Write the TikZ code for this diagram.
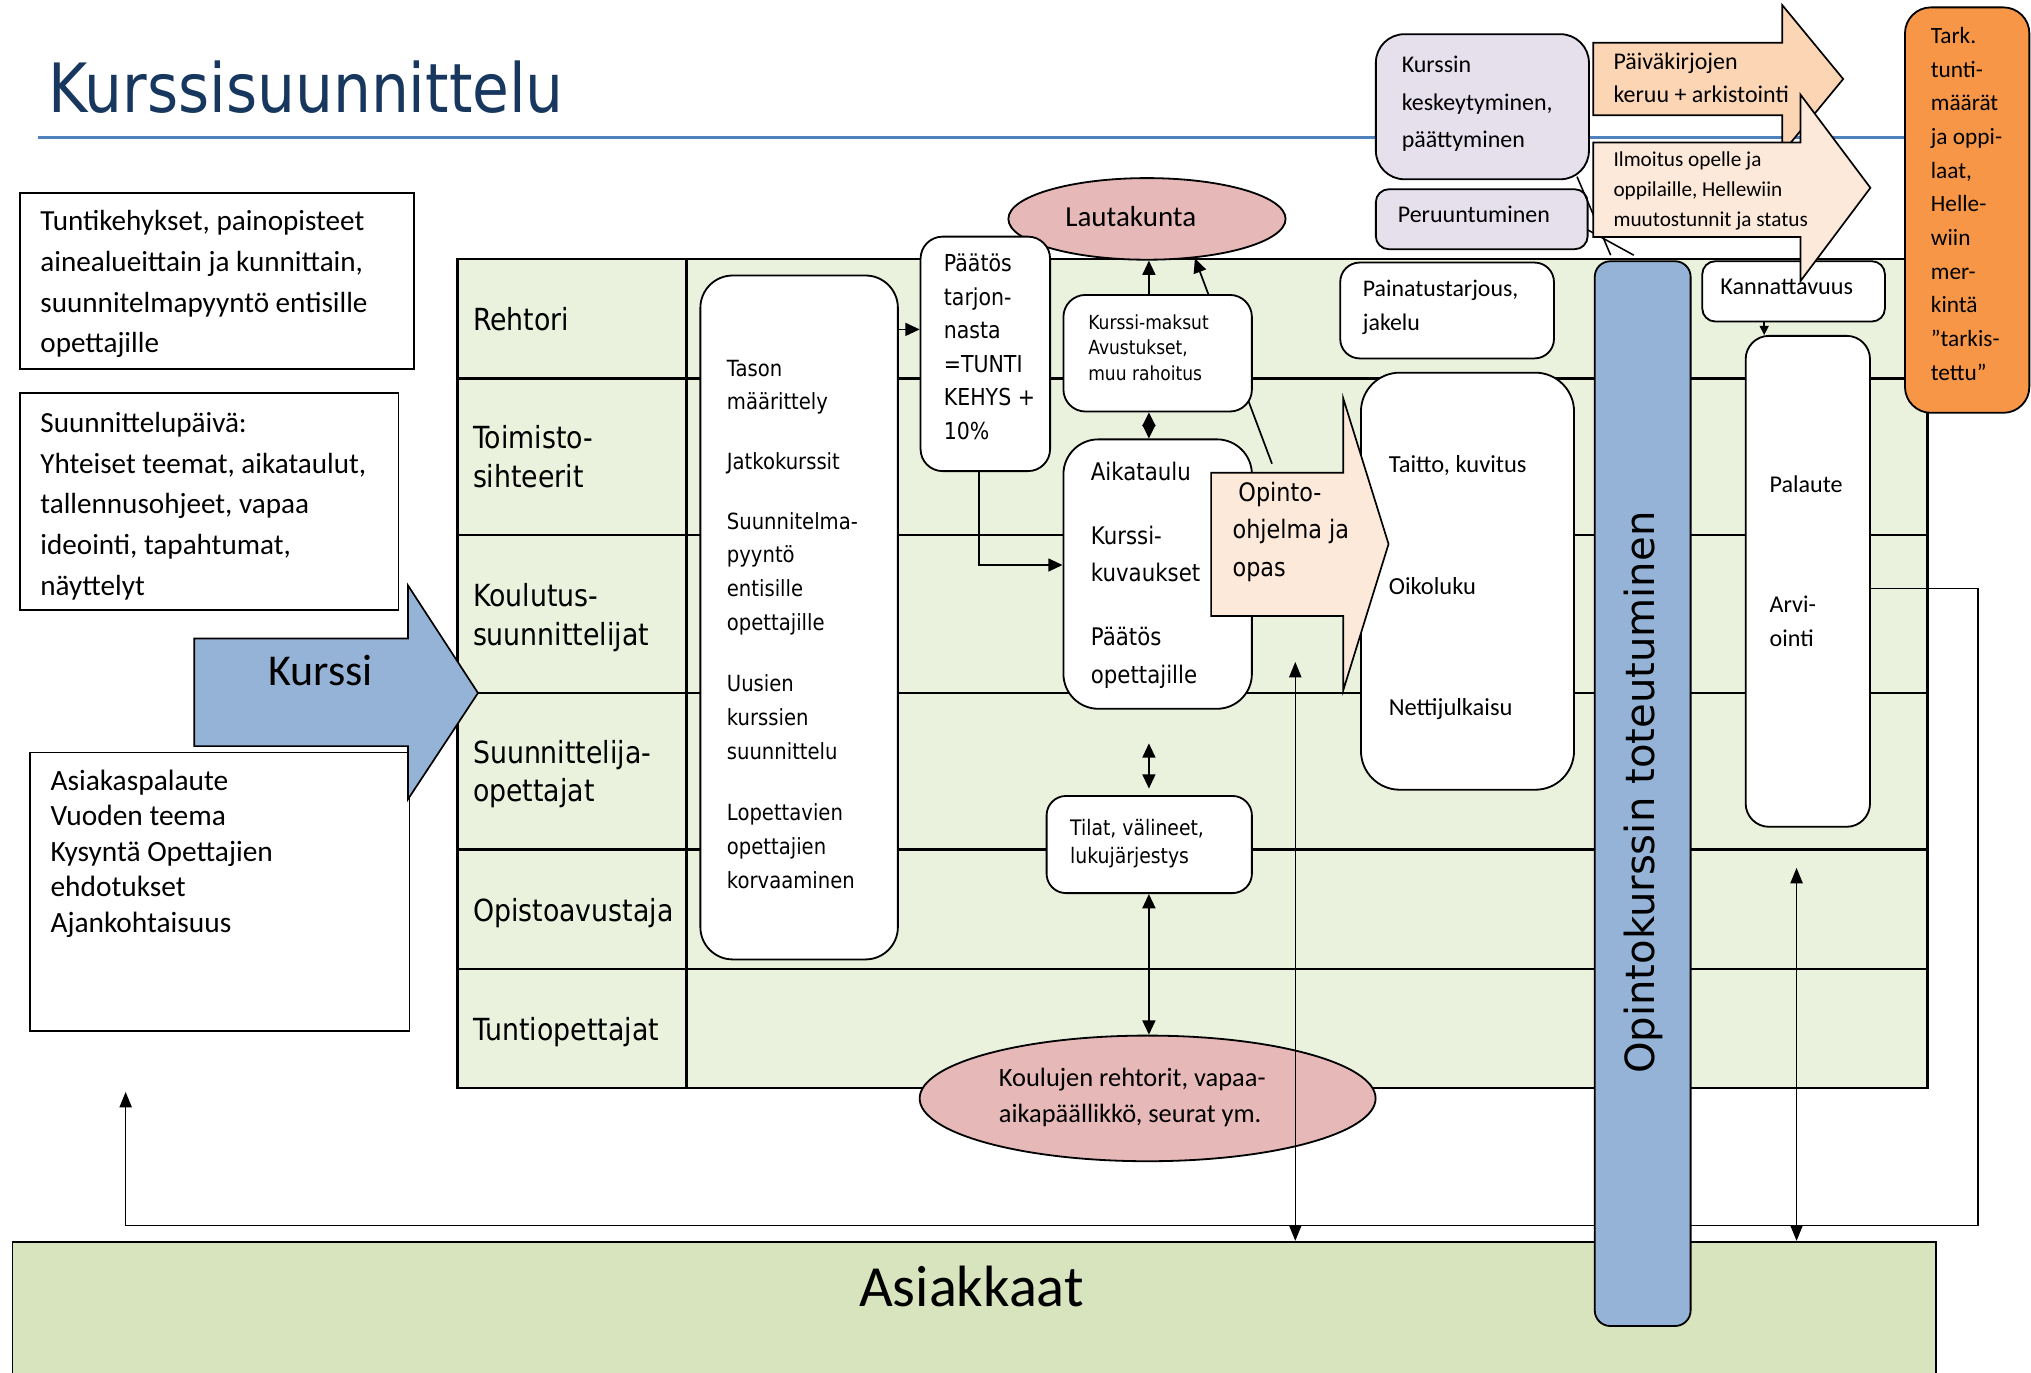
\documentclass[tikz,border=0pt]{standalone}
\usepackage{fontspec}
\setmainfont{Carlito}
\newfontfamily\calf{Carlito}
\newfontfamily\tahf[FakeStretch=0.88]{DejaVu Sans}
\newfontfamily\verf{DejaVu Sans}
\usetikzlibrary{shapes.geometric,arrows.meta}
\definecolor{lanebg}{HTML}{EAF1DD}
\definecolor{custbg}{HTML}{D7E4BD}
\definecolor{barblue}{HTML}{95B3D7}
\definecolor{titleblue}{HTML}{17375E}
\definecolor{ruleblue}{HTML}{4F81BD}
\definecolor{pinkbg}{HTML}{E6B9B8}
\definecolor{lavbg}{HTML}{E5E0EC}
\definecolor{peachA}{HTML}{FCD5B5}
\definecolor{peachB}{HTML}{FDE9D9}
\definecolor{orangebg}{HTML}{F79646}
\newcommand{\tl}[1]{\begin{tabular}[t]{@{}l@{}}#1\end{tabular}}
\newcommand{\cf}[2]{\calf\fontsize{#1}{#2}\selectfont}
\newcommand{\tf}[2]{\tahf\fontsize{#1}{#2}\selectfont}
\begin{document}
\begin{tikzpicture}[x=1pt,y=-1pt,
  txt/.style={inner sep=0pt, anchor=base west},
  bx/.style={draw, line width=1.4pt, fill=white, anchor=north west, inner sep=0pt},
  shapeln/.style={draw=black, line width=1.3pt},
  laneln/.style={line width=2pt},
  arr/.style={line width=1.3pt, -{Triangle[length=11pt,width=10pt]}},
  darr/.style={line width=1.3pt, {Triangle[length=11pt,width=10pt]}-{Triangle[length=11pt,width=10pt]}},
  thinarr/.style={line width=1.1pt, -{Triangle[length=12pt,width=9.5pt]}},
  thindarr/.style={line width=1.1pt, {Triangle[length=12pt,width=9.5pt]}-{Triangle[length=12pt,width=9.5pt]}}
]
\useasboundingbox (0,0) rectangle (1568,1060);

% ---------- title ----------
\draw[ruleblue, line width=2.2pt] (29.5,106) -- (1470,106);
\node[txt, font=\tahf\fontsize{52.5}{60}\selectfont, text=titleblue] (title) at (37,87) {Kurssisuunnittelu};

% ---------- swimlanes ----------
\draw[laneln, fill=lanebg] (353,200) rectangle (1488,840);
\foreach \yy in {292,413,535,656,748} \draw[laneln] (353,\yy) -- (1488,\yy);
\draw[laneln] (530,200) -- (530,840);

\node[txt, font=\tf{23.5}{29.5}] (lnA) at (365,255) {Rehtori};
\node[txt, font=\tf{23.5}{29.5}] (lnB) at (365,346.5) {\tl{Toimisto-\\sihteerit}};
\node[txt, font=\tf{23.5}{29.5}] (lnC) at (365,468.5) {\tl{Koulutus-\\suunnittelijat}};
\node[txt, font=\tf{23.5}{29.5}] (lnD) at (365,589.5) {\tl{Suunnittelija-\\opettajat}};
\node[txt, font=\tf{23.5}{29.5}] (lnE) at (365,711.5) {Opistoavustaja};
\node[txt, font=\tf{23.5}{29.5}] (lnF) at (365,803.5) {Tuntiopettajat};

% ---------- customers ----------
\node[draw, line width=1.4pt, fill=custbg, anchor=north west, inner sep=0pt,
      minimum width=1485pt, minimum height=112pt] (asiak) at (9,958) {};
\node[font=\cf{45}{50}, inner sep=0pt, anchor=base] (asiakT) at (750,1009) {Asiakkaat};

% ---------- left boxes ----------
\node[draw, line width=1.4pt, fill=white, anchor=north west, inner sep=0pt,
      minimum width=304pt, minimum height=136pt] (lbA) at (15,148) {};
\node[txt, font=\cf{22.5}{31.5}] (lbAT) at (31,178) {\tl{Tuntikehykset, painopisteet\\ainealueittain ja kunnittain,\\suunnitelmapyyntö entisille\\opettajille}};
\node[draw, line width=1.4pt, fill=white, anchor=north west, inner sep=0pt,
      minimum width=292pt, minimum height=168pt] (lbB) at (15,302.5) {};
\node[txt, font=\cf{22.5}{31.4}] (lbBT) at (31,333.8) {\tl{Suunnittelupäivä:\\Yhteiset teemat, aikataulut,\\tallennusohjeet, vapaa\\ideointi, tapahtumat,\\näyttelyt}};
\node[draw, line width=1.4pt, fill=white, anchor=north west, inner sep=0pt,
      minimum width=293pt, minimum height=215pt] (lbC) at (22.4,580.3) {};
\node[txt, font=\cf{22.7}{27.5}] (lbCT) at (38.8,610) {\tl{Asiakaspalaute\\Vuoden teema\\Kysyntä Opettajien\\ehdotukset\\Ajankohtaisuus}};

% Kurssi block arrow
\draw[shapeln, fill=barblue] (150,493) -- (315,493) -- (315,452) -- (369,535) -- (315,617) -- (315,576) -- (150,576) -- cycle;
\node[font=\cf{34}{40}, inner sep=0pt, anchor=base] (kurssiT) at (247.5,529) {Kurssi};

% ---------- Lautakunta ----------
\node[draw, ellipse, line width=1.4pt, fill=pinkbg, inner sep=0pt,
      minimum width=214pt, minimum height=63pt] (laut) at (885.5,169) {};
\node[font=\cf{22.4}{26}, inner sep=0pt, anchor=base] (lautT) at (873,175) {Lautakunta};

% slanted line behind the financing box
\coordinate (opTop) at (982,358);
\coordinate (lautHit) at (922.5,199.5);
\draw[arr] (opTop) -- (lautHit);

% ---------- middle boxes ----------
\node[bx, rounded corners=25pt, minimum width=152.5pt, minimum height=528pt] (tason) at (540,212) {};
\node[txt, font=\tf{17.2}{26}] (tasonT) at (561,290.3) {\tl{Tason\\määrittely\\[20.3pt]Jatkokurssit\\[20pt]Suunnitelma-\\pyyntö\\entisille\\opettajille\\[21.6pt]Uusien\\kurssien\\suunnittelu\\[21.5pt]Lopettavien\\opettajien\\korvaaminen}};

\node[bx, rounded corners=17pt, minimum width=100pt, minimum height=181pt] (paatos) at (710,182) {};
\node[txt, font=\tf{18}{25.9}] (paatosT) at (728.5,209.7) {\tl{Päätös\\tarjon-\\nasta\\=TUNTI\\KEHYS +\\10\%}};

\node[bx, rounded corners=17pt, minimum width=145.5pt, minimum height=90pt] (maksut) at (820.3,227) {};
\node[txt, font=\tf{15}{19.7}] (maksutT) at (840,254) {\tl{Kurssi-maksut\\Avustukset,\\muu rahoitus}};

\node[bx, rounded corners=27pt, minimum width=145.5pt, minimum height=208pt] (aika) at (820.3,338.5) {};
\node[txt, font=\tf{18.7}{29}] (aikaT) at (842,370.6) {\tl{Aikataulu\\[20.4pt]Kurssi-\\kuvaukset\\[20.7pt]Päätös\\opettajille}};

\node[bx, rounded corners=15pt, minimum width=158.5pt, minimum height=75pt] (tilat) at (807.3,613.8) {};
\node[txt, font=\tf{16.5}{22}] (tilatT) at (826,645) {\tl{Tilat, välineet,\\lukujärjestys}};

\node[draw, ellipse, line width=1.4pt, fill=pinkbg, inner sep=0pt,
      minimum width=352pt, minimum height=97pt] (koul) at (886,848) {};
\node[txt, font=\cf{20.4}{27.7}] (koulT) at (771,839) {\tl{Koulujen rehtorit, vapaa-\\aikapäällikkö, seurat ym.}};

% right boxes in lanes
\node[bx, rounded corners=15pt, minimum width=165pt, minimum height=74pt] (paina) at (1034,202) {};
\node[txt, font=\cf{18.4}{25.8}] (painaT) at (1052,229) {\tl{Painatustarjous,\\jakelu}};

\node[bx, rounded corners=30pt, minimum width=164.5pt, minimum height=322pt] (taitto) at (1050,287) {};
\node[txt, font=\cf{18.9}{24}] (taittoA) at (1072,365) {Taitto, kuvitus};
\node[txt, font=\cf{18.9}{24}] (taittoB) at (1072,459) {Oikoluku};
\node[txt, font=\cf{18.9}{24}] (taittoC) at (1072,552) {Nettijulkaisu};

\node[bx, rounded corners=10pt, minimum width=141pt, minimum height=46.5pt] (kann) at (1313.5,201) {};

\node[bx, rounded corners=18pt, minimum width=96pt, minimum height=379pt] (pal) at (1347,258.6) {};
\node[txt, font=\cf{18.6}{26.5}] (palA) at (1366,380.6) {Palaute};
\node[txt, font=\cf{18.6}{26}] (palB) at (1366,473) {\tl{Arvi-\\ointi}};

% Opinto-ohjelma block arrow
\draw[shapeln, fill=peachB] (935,365) -- (1037,365) -- (1037,307.5) -- (1072,420) -- (1037,533) -- (1037,475.5) -- (935,475.5) -- cycle;
\node[txt, font=\tf{19.6}{28.8}] (opT) at (951.4,387.3) {\tl{\hspace{4.5pt}Opinto-\\ohjelma ja\\opas}};

% ---------- connectors ----------
\draw[arr] (tason.east |- 0,254.3) -- (paatos.west |- 0,254.3);
\draw[arr] (paatos.south -| 756,0) |- (aika.west |- 0,436.2);
\draw[arr] (maksut.north -| 887,0) -- (laut.south -| 887,0);
\draw[line width=1.3pt, {Triangle[length=10.5pt,width=10pt]}-{Triangle[length=10.5pt,width=10pt]}] (maksut.south -| 887,0) -- (aika.north -| 887,0);
\draw[darr, shorten <=26pt, shorten >=5pt] (aika.south -| 887,0) -- (tilat.north -| 887,0);
\draw[darr] (tilat.south -| 887,0) -- (koul.north -| 887,0);
\draw[line width=1.1pt, -{Triangle[length=7pt,width=7pt]}] (kann.south -| 1362,0) -- (pal.north -| 1362,0);

\coordinate (upA) at (1000,511);
\coordinate (upB) at (1387,670);
\draw[thindarr] (upA) -- (asiak.north -| upA);
\draw[thindarr] (upB) -- (asiak.north -| upB);

\coordinate (fbR) at (1527,454.5);
\coordinate (fbRB) at (1527,946);
\coordinate (fbL) at (97,946);
\coordinate (fbTip) at (97,843);
\draw[thinarr] (pal.east |- fbR) -- (fbR) -- (fbRB) -- (fbL) -- (fbTip);

% ---------- realisation bar ----------
\node[draw, line width=1.4pt, fill=barblue, rounded corners=12pt, anchor=north west, inner sep=0pt,
      minimum width=74pt, minimum height=822pt] (bar) at (1230.5,201) {};
\node[font=\verf\fontsize{31}{36}\selectfont, rotate=90, inner sep=0pt] (barT) at (1269,612) {Opintokurssin toteutuminen};

% ---------- top right ----------
\node[draw, line width=1.4pt, fill=lavbg, rounded corners=22pt, anchor=north west, inner sep=0pt,
      minimum width=164.5pt, minimum height=112pt] (kesk) at (1061.5,25.7) {};
\node[txt, font=\cf{18.5}{29}] (keskT) at (1082,56.1) {\tl{Kurssin\\keskeytyminen,\\päättyminen}};
\node[draw, line width=1.4pt, fill=lavbg, rounded corners=10pt, anchor=north west, inner sep=0pt,
      minimum width=163.5pt, minimum height=46.3pt] (peru) at (1061.5,145.4) {};
\node[txt, font=\cf{18.5}{24}] (peruT) at (1079,172) {Peruuntuminen};

\coordinate (lnA1) at (1217.5,136.4);
\coordinate (lnA2) at (1243.5,197);
\coordinate (lnB1) at (1226,177.6);
\coordinate (lnB2) at (1261.3,197);
\draw[line width=1.2pt] (lnA1) -- (lnA2);
\draw[line width=1.2pt] (lnB1) -- (lnB2);

\draw[shapeln, fill=peachA] (1230,33) -- (1376,33) -- (1376,4) -- (1423,61) -- (1376,118) -- (1376,89) -- (1230,89) -- cycle;
\node[txt, font=\cf{18.5}{25.5}] (paivT) at (1245.5,54) {\tl{Päiväkirjojen\\keruu + arkistointi}};

\draw[shapeln, fill=peachB] (1230,110) -- (1390,110) -- (1390,73) -- (1444,145) -- (1390,217) -- (1390,183) -- (1230,183) -- cycle;
\node[txt, font=\cf{16.4}{23.2}] (ilmT) at (1245.5,128.7) {\tl{Ilmoitus opelle ja\\oppilaille, Hellewiin\\muutostunnit ja status}};

\node[txt, font=\cf{18.7}{24}] (kannT) at (1328,227.7) {Kannattavuus};

\node[draw, line width=1.4pt, fill=orangebg, rounded corners=20pt, anchor=north west, inner sep=0pt,
      minimum width=96pt, minimum height=313pt] (tark) at (1470,5) {};
\node[txt, font=\cf{18}{26}] (tarkT) at (1490.5,33.5) {\tl{Tark.\\tunti-\\määrät\\ja oppi-\\laat,\\Helle-\\wiin\\mer-\\kintä\\”tarkis-\\tettu”}};

\end{tikzpicture}
\end{document}
